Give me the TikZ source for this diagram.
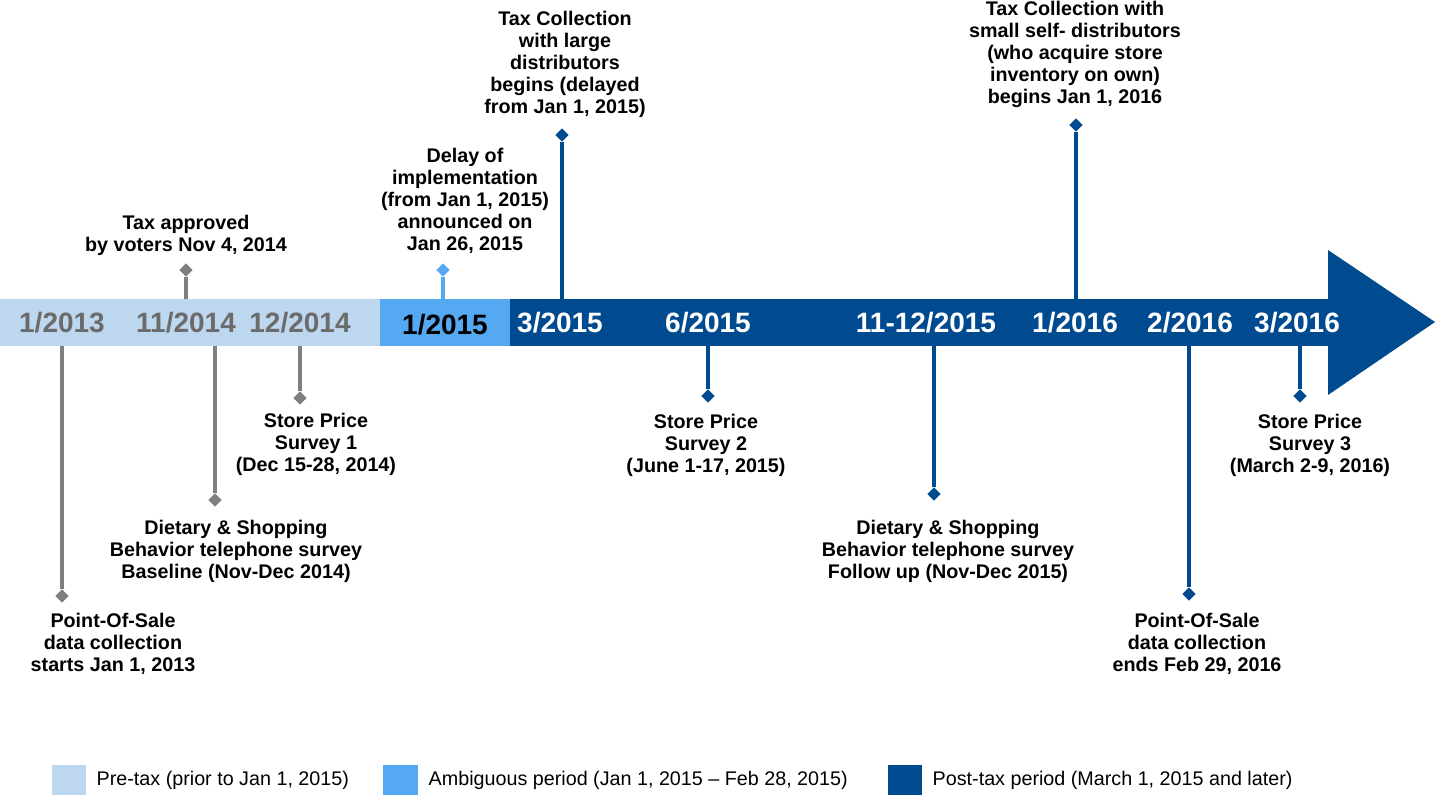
\documentclass[tikz,border=0pt]{standalone}
\usepackage{fontspec}
\setmainfont{Liberation Sans}
\usetikzlibrary{shapes.geometric}
\definecolor{lb}{HTML}{BDD7EE}
\definecolor{mb}{HTML}{55A8F2}
\definecolor{db}{HTML}{004A8F}
\definecolor{gr}{HTML}{7F7F7F}
\definecolor{gt}{HTML}{6B6B6B}
\tikzset{
  x=0.75pt,y=-0.75pt,
  dia/.style={diamond,fill=#1,inner sep=0,minimum size=10pt},
  stem/.style={line width=3.2pt,draw=#1},
  ann/.style={font=\fontsize{14.8}{16.5}\selectfont\bfseries,align=center},
  bl/.style={font=\fontsize{21}{22}\selectfont\bfseries},
  leg/.style={font=\fontsize{14.8}{16}\selectfont,anchor=west}
}
\begin{document}
\begin{tikzpicture}
\useasboundingbox (0,0) rectangle (1438,800);
\fill[lb] (0,299) rectangle (380,346);
\fill[mb] (380,299) rectangle (510,346);
\fill[db] (510,299) rectangle (1330,346);
\fill[db] (1328,250) -- (1435,322) -- (1328,395) -- cycle;
% stems
\coordinate (b1) at (62,346); \node[dia=gr] (d1) at (62,596) {}; \draw[stem=gr] (b1) -- (d1);
\coordinate (b2) at (186,299); \node[dia=gr] (d2) at (186,270) {}; \draw[stem=gr] (b2) -- (d2);
\coordinate (b3) at (215,346); \node[dia=gr] (d3) at (215,500) {}; \draw[stem=gr] (b3) -- (d3);
\coordinate (b4) at (300,346); \node[dia=gr] (d4) at (300,398) {}; \draw[stem=gr] (b4) -- (d4);
\coordinate (b5) at (443,299); \node[dia=mb] (d5) at (443,270) {}; \draw[stem=mb] (b5) -- (d5);
\coordinate (b6) at (562,299); \node[dia=db] (d6) at (562,135) {}; \draw[stem=db] (b6) -- (d6);
\coordinate (b7) at (708,346); \node[dia=db] (d7) at (708,396) {}; \draw[stem=db] (b7) -- (d7);
\coordinate (b8) at (934,346); \node[dia=db] (d8) at (934,494) {}; \draw[stem=db] (b8) -- (d8);
\coordinate (b9) at (1076,299); \node[dia=db] (d9) at (1076,125) {}; \draw[stem=db] (b9) -- (d9);
\coordinate (b10) at (1189,346); \node[dia=db] (d10) at (1189,594) {}; \draw[stem=db] (b10) -- (d10);
\coordinate (b11) at (1300,346); \node[dia=db] (d11) at (1300,396) {}; \draw[stem=db] (b11) -- (d11);
% bar labels
\node[bl,text=gt] (l1) at (62,323) {1/2013};
\node[bl,text=gt] (l2) at (186,323) {11/2014};
\node[bl,text=gt] (l3) at (300,323) {12/2014};
\node[bl,text=black] (l4) at (445,325) {1/2015};
\node[bl,text=white] (l5) at (560,323) {3/2015};
\node[bl,text=white] (l6) at (708,323) {6/2015};
\node[bl,text=white] (l7) at (926,323) {11-12/2015};
\node[bl,text=white] (l8) at (1075,323) {1/2016};
\node[bl,text=white] (l9) at (1190,323) {2/2016};
\node[bl,text=white] (l10) at (1297,323) {3/2016};
% annotations
\node[ann,anchor=south] (a2) at (186,260) {Tax approved\\by voters Nov 4, 2014};
\node[ann,anchor=north] (a1) at (113,608) {Point-Of-Sale\\data collection\\starts Jan 1, 2013};
\node[ann,anchor=north] (a3) at (236,515) {Dietary \& Shopping\\Behavior telephone survey\\Baseline (Nov-Dec 2014)};
\node[ann,anchor=north] (a4) at (316,408) {Store Price\\Survey 1\\(Dec 15-28, 2014)};
\node[ann,anchor=south] (a5) at (465,258) {Delay of\\implementation\\(from Jan 1, 2015)\\announced on\\Jan 26, 2015};
\node[ann,anchor=south] (a6) at (565,122) {Tax Collection\\with large\\distributors\\begins (delayed\\from Jan 1, 2015)};
\node[ann,anchor=north] (a7) at (706,409) {Store Price\\Survey 2\\(June 1-17, 2015)};
\node[ann,anchor=north] (a8) at (948,515) {Dietary \& Shopping\\Behavior telephone survey\\Follow up (Nov-Dec 2015)};
\node[ann,anchor=south] (a9) at (1075,112) {Tax Collection with\\small self- distributors\\(who acquire store\\inventory on own)\\begins Jan 1, 2016};
\node[ann,anchor=north] (a10) at (1197,608) {Point-Of-Sale\\data collection\\ends Feb 29, 2016};
\node[ann,anchor=north] (a11) at (1310,409) {Store Price\\Survey 3\\(March 2-9, 2016)};
% legend
\fill[lb] (52,765) rectangle (86,795);
\node[leg] (g1) at (92,780) {Pre-tax (prior to Jan 1, 2015)};
\fill[mb] (383,765) rectangle (418,795);
\node[leg] (g2) at (424,780) {Ambiguous period (Jan 1, 2015 – Feb 28, 2015)};
\fill[db] (888,765) rectangle (922,795);
\node[leg] (g3) at (928,780) {Post-tax period (March 1, 2015 and later)};
\end{tikzpicture}
\end{document}
